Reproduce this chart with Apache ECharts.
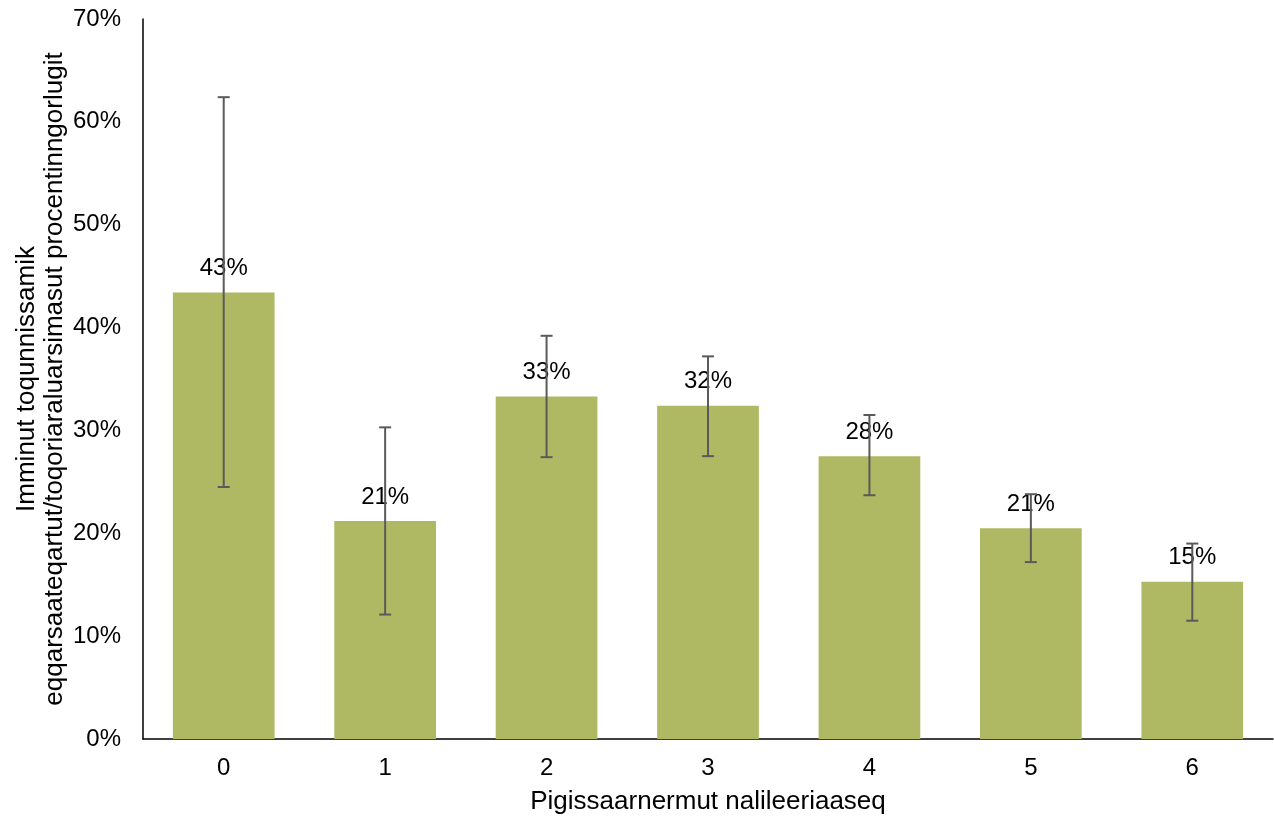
<!DOCTYPE html>
<html><head><meta charset="utf-8">
<script src="https://cdn.jsdelivr.net/npm/echarts@6/dist/echarts.min.js"></script>
<style>html,body{margin:0;padding:0;background:#fff}#c{width:1274px;height:821px}</style>
</head><body><div id="c"></div>
<script>
const categories = ['0','1','2','3','4','5','6'];
const values = [43.4, 21.2, 33.3, 32.4, 27.5, 20.5, 15.3];
const errLow = [24.5, 12.1, 27.4, 27.5, 23.7, 17.2, 11.5];
const errHigh = [62.4, 30.3, 39.2, 37.2, 31.5, 23.8, 19.0];
const yTicks = [0, 10, 20, 30, 40, 50, 60, 70];

const font = 'Liberation Sans, Arial, sans-serif';
const chart = echarts.init(document.getElementById('c'));
chart.setOption({
  animation: false,
  grid: {left: 143, right: 1, top: 19, bottom: 82, containLabel: false, outerBoundsMode: 'none'},
  xAxis: {
    type: 'category', data: categories,
    name: 'Pigissaarnermut nalileeriaaseq', nameLocation: 'middle', nameGap: 50, nameMoveOverlap: false,
    nameTextStyle: {fontFamily: font, fontSize: 26, color: '#000'},
    axisLine: {lineStyle: {color: '#000', width: 1.5}},
    axisTick: {show: false},
    axisLabel: {fontFamily: font, fontSize: 24, color: '#000', margin: 17}
  },
  yAxis: {
    type: 'value', min: yTicks[0], max: yTicks[yTicks.length-1], interval: 10,
    name: 'Imminut toqunnissamik\neqqarsaateqartut/toqoriaraluarsimasut procentinngorlugit',
    nameLocation: 'middle', nameGap: 74, nameMoveOverlap: false,
    nameTextStyle: {fontFamily: font, fontSize: 26, color: '#000', lineHeight: 28},
    axisLine: {show: true, lineStyle: {color: '#000', width: 1.5}},
    axisTick: {show: false},
    splitLine: {show: false},
    axisLabel: {fontFamily: font, fontSize: 24, color: '#000', margin: 22, formatter: '{value}%'}
  },
  series: [{
    type: 'bar', data: values, barCategoryGap: '37%',
    itemStyle: {color: '#afb863'},
    label: {show: true, position: 'top', distance: 12, fontFamily: font, fontSize: 24, color: '#000',
      formatter: p => Math.round(p.value) + '%'}
  }, {
    type: 'custom', z: 5,
    data: categories.map((c, i) => [i, errLow[i], errHigh[i]]),
    renderItem: (params, api) => {
      const lo = api.coord([api.value(0), api.value(1)]);
      const hi = api.coord([api.value(0), api.value(2)]);
      const w = 6;
      const st = {stroke: '#5a5a5a', lineWidth: 2};
      return {type: 'group', children: [
        {type: 'line', shape: {x1: lo[0], y1: lo[1], x2: hi[0], y2: hi[1]}, style: st},
        {type: 'line', shape: {x1: lo[0]-w, y1: lo[1], x2: lo[0]+w, y2: lo[1]}, style: st},
        {type: 'line', shape: {x1: hi[0]-w, y1: hi[1], x2: hi[0]+w, y2: hi[1]}, style: st}
      ]};
    }
  }]
});
</script></body></html>
